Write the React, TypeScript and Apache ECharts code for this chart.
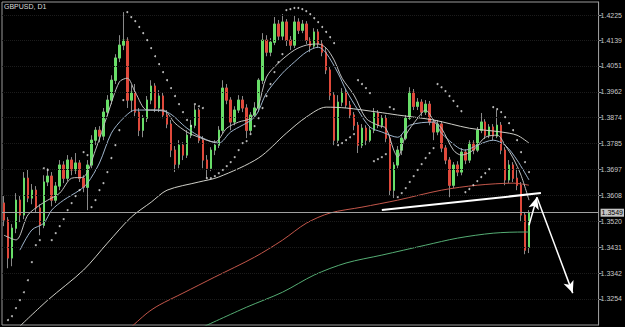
import React, { useEffect, useRef } from "react";
import * as echarts from "echarts";

const chartTitle = "GBPUSD, D1";
const lastPrice = 1.3549;
const slotCount = 150;
const priceTicks = [1.4225, 1.4139, 1.4051, 1.3962, 1.3874, 1.3785, 1.3697, 1.3608, 1.352, 1.3431, 1.3342, 1.3254];

// [open, close, low, high]
const candles: number[][] = [
  [1.3582, 1.3524, 1.3503, 1.3606], [1.3524, 1.3394, 1.3359, 1.3534], [1.3394, 1.3496, 1.3366, 1.351],
  [1.3496, 1.3592, 1.3479, 1.3616], [1.3592, 1.3541, 1.3517, 1.3606], [1.3541, 1.3667, 1.3527, 1.3688],
  [1.3667, 1.3599, 1.3585, 1.3695], [1.3599, 1.3626, 1.3578, 1.3647], [1.3626, 1.3565, 1.3551, 1.364],
  [1.3565, 1.3506, 1.3472, 1.3578], [1.3506, 1.3654, 1.3496, 1.3677], [1.3654, 1.3674, 1.364, 1.3701],
  [1.3674, 1.3592, 1.3571, 1.3688], [1.3592, 1.364, 1.3582, 1.3654], [1.364, 1.3712, 1.3626, 1.3729],
  [1.3712, 1.3667, 1.365, 1.3725], [1.3667, 1.3729, 1.3657, 1.3746], [1.3729, 1.3695, 1.3677, 1.3739],
  [1.3695, 1.3719, 1.3681, 1.3753], [1.3719, 1.3667, 1.3654, 1.3729], [1.3667, 1.3636, 1.3619, 1.3677],
  [1.3636, 1.3712, 1.3558, 1.3729], [1.3712, 1.3797, 1.3701, 1.3814], [1.3797, 1.3831, 1.378, 1.3842],
  [1.3831, 1.3811, 1.379, 1.3845], [1.3811, 1.3893, 1.3797, 1.3907], [1.3893, 1.3934, 1.3879, 1.3951],
  [1.3934, 1.4002, 1.392, 1.4019], [1.4002, 1.4078, 1.3989, 1.4091], [1.4078, 1.4122, 1.4064, 1.4156],
  [1.4122, 1.4139, 1.4105, 1.4235], [1.4139, 1.3934, 1.3907, 1.4149], [1.3934, 1.3961, 1.3893, 1.3985],
  [1.3961, 1.3893, 1.3879, 1.3989], [1.3893, 1.3831, 1.3811, 1.3907], [1.3831, 1.3872, 1.3807, 1.3883],
  [1.3872, 1.3934, 1.3859, 1.3948], [1.3934, 1.3982, 1.392, 1.4002], [1.3982, 1.3907, 1.3893, 1.3992],
  [1.3907, 1.3948, 1.3893, 1.3968], [1.3948, 1.3883, 1.3872, 1.3961], [1.3883, 1.3852, 1.3838, 1.39],
  [1.3852, 1.3763, 1.3739, 1.3866], [1.3763, 1.3715, 1.3688, 1.3777], [1.3715, 1.378, 1.3701, 1.3797],
  [1.378, 1.3746, 1.3729, 1.379], [1.3746, 1.3814, 1.3736, 1.3831], [1.3814, 1.3848, 1.3804, 1.3866],
  [1.3848, 1.39, 1.3838, 1.3917], [1.39, 1.3797, 1.3784, 1.3907], [1.3797, 1.3729, 1.3701, 1.3811],
  [1.3729, 1.3701, 1.3667, 1.3746], [1.3701, 1.3763, 1.3691, 1.3773], [1.3763, 1.378, 1.3746, 1.3797],
  [1.378, 1.3831, 1.377, 1.3845], [1.3831, 1.3975, 1.3821, 1.4002], [1.3975, 1.3934, 1.392, 1.3989],
  [1.3934, 1.3859, 1.3831, 1.3944], [1.3859, 1.39, 1.3848, 1.3913], [1.39, 1.3934, 1.389, 1.3951],
  [1.3934, 1.3907, 1.3893, 1.3948], [1.3907, 1.3831, 1.3804, 1.392], [1.3831, 1.3883, 1.3821, 1.3893],
  [1.3883, 1.3907, 1.3872, 1.3927], [1.3907, 1.4002, 1.3893, 1.4009], [1.4002, 1.4139, 1.3989, 1.4163],
  [1.4139, 1.4098, 1.4084, 1.4156], [1.4098, 1.4132, 1.4084, 1.4146], [1.4132, 1.4194, 1.4122, 1.4218],
  [1.4194, 1.4153, 1.4139, 1.4208], [1.4153, 1.4201, 1.4139, 1.4228], [1.4201, 1.4139, 1.4119, 1.4211],
  [1.4139, 1.4122, 1.4105, 1.4153], [1.4122, 1.4201, 1.4112, 1.4225], [1.4201, 1.4173, 1.416, 1.4214],
  [1.4173, 1.4194, 1.4163, 1.4208], [1.4194, 1.4139, 1.4126, 1.4204], [1.4139, 1.4119, 1.4098, 1.4149],
  [1.4119, 1.4167, 1.4112, 1.418], [1.4167, 1.4126, 1.4112, 1.4177], [1.4126, 1.4098, 1.4084, 1.4139],
  [1.4098, 1.4037, 1.4023, 1.4112], [1.4037, 1.3951, 1.3934, 1.4047], [1.3951, 1.3797, 1.378, 1.3961],
  [1.3797, 1.3927, 1.3787, 1.3951], [1.3927, 1.3961, 1.3913, 1.3975], [1.3961, 1.3917, 1.3907, 1.3972],
  [1.3917, 1.3883, 1.3872, 1.3931], [1.3883, 1.3848, 1.3831, 1.3893], [1.3848, 1.378, 1.3753, 1.3859],
  [1.378, 1.3838, 1.377, 1.3852], [1.3838, 1.3797, 1.378, 1.3848], [1.3797, 1.3831, 1.379, 1.3845],
  [1.3831, 1.389, 1.3821, 1.3907], [1.389, 1.3848, 1.3838, 1.39], [1.3848, 1.3872, 1.3838, 1.3883],
  [1.3872, 1.3804, 1.379, 1.3883], [1.3804, 1.3626, 1.3609, 1.3814], [1.3626, 1.3712, 1.3599, 1.3722],
  [1.3712, 1.3763, 1.3701, 1.3777], [1.3763, 1.3804, 1.3746, 1.3818], [1.3804, 1.3872, 1.3797, 1.3883],
  [1.3872, 1.3961, 1.3866, 1.3978], [1.3961, 1.3913, 1.39, 1.3972], [1.3913, 1.3927, 1.39, 1.3941],
  [1.3927, 1.3893, 1.3879, 1.3937], [1.3893, 1.392, 1.3883, 1.3934], [1.392, 1.3859, 1.3848, 1.3931],
  [1.3859, 1.3825, 1.3797, 1.3869], [1.3825, 1.3852, 1.3814, 1.3866], [1.3852, 1.377, 1.3756, 1.3862],
  [1.377, 1.3729, 1.3715, 1.378], [1.3729, 1.3643, 1.3602, 1.3739], [1.3643, 1.3712, 1.3633, 1.3722],
  [1.3712, 1.3688, 1.3674, 1.3725], [1.3688, 1.3756, 1.3677, 1.377], [1.3756, 1.3729, 1.3715, 1.3766],
  [1.3729, 1.3787, 1.3719, 1.3797], [1.3787, 1.3763, 1.3749, 1.3797], [1.3763, 1.3831, 1.3756, 1.3842],
  [1.3831, 1.3859, 1.3821, 1.389], [1.3859, 1.3814, 1.3801, 1.3869], [1.3814, 1.3842, 1.3804, 1.3852],
  [1.3842, 1.3811, 1.3797, 1.3852], [1.3811, 1.3848, 1.3804, 1.39], [1.3848, 1.3763, 1.3749, 1.3859],
  [1.3763, 1.3661, 1.3643, 1.3773], [1.3661, 1.3712, 1.365, 1.3729], [1.3712, 1.3667, 1.3654, 1.3722],
  [1.3667, 1.3643, 1.3626, 1.3701], [1.3643, 1.3541, 1.3517, 1.3654], [1.3541, 1.3421, 1.3407, 1.3551],
  [1.3431, 1.3549, 1.3411, 1.3558],
];

const sar: number[] = [
  1.3164, 1.3182, 1.3195, 1.3223, 1.325, 1.3277, 1.3318, 1.338, 1.3438, 1.3455,
  1.3701, 1.3695,
  1.3455, 1.3479, 1.3503, 1.3527, 1.3558, 1.3582, 1.3606, 1.3626,
  1.3756, 1.3746,
  1.3568, 1.3592, 1.3626, 1.365, 1.3688, 1.3736, 1.378, 1.3831, 1.3934,
  1.4235, 1.4218, 1.4204, 1.4184, 1.4163, 1.4139, 1.4112, 1.4084, 1.4057, 1.403, 1.4002, 1.3975, 1.3948, 1.392, 1.3893, 1.3866, 1.3845,
  1.392, 1.3913, 1.3907,
  1.3667, 1.3667, 1.3674, 1.3684, 1.3695, 1.3708, 1.3722, 1.3739, 1.3763, 1.3787, 1.3794, 1.3818, 1.3845, 1.3872, 1.3907, 1.3948, 1.3989, 1.403, 1.4064, 1.4091,
  1.4242, 1.4245, 1.4249, 1.4249, 1.4245, 1.4238, 1.4228, 1.4214, 1.4201, 1.4184, 1.4167, 1.4149, 1.4129,
  1.378, 1.3787, 1.3797, 1.3807, 1.3818,
  1.4002, 1.3989, 1.3975, 1.3958,
  1.3725, 1.3732, 1.3739, 1.3749,
  1.391, 1.3903,
  1.3602, 1.3616, 1.3633, 1.3654, 1.3674, 1.3695, 1.3715, 1.3736, 1.3753, 1.377,
  1.3989, 1.3978, 1.3965, 1.3948, 1.3931, 1.3913, 1.3896,
  1.3619, 1.363, 1.3643, 1.3657, 1.3671, 1.3684, 1.3698,
  1.391, 1.3903, 1.3893, 1.3876, 1.3855, 1.3831, 1.3797, 1.3756, 1.3722, 1.3688,
];

// moving averages read at points: [bar index, price]
const maFast: number[][] = [
  [0, 1.3472], [3, 1.3456], [6, 1.3541], [9, 1.3575], [11, 1.3592], [14, 1.3616], [17, 1.3667], [20, 1.3671],
  [23, 1.3763], [26, 1.3883], [29, 1.3996], [31, 1.4009], [33, 1.3961], [36, 1.39], [40, 1.39], [43, 1.3855],
  [46, 1.3825], [49, 1.3807], [53, 1.379], [56, 1.3838], [59, 1.3859], [62, 1.3872], [64, 1.3917], [66, 1.4013],
  [69, 1.4061], [73, 1.4105], [76, 1.4122], [79, 1.4126], [81, 1.4112], [83, 1.4071], [85, 1.4009], [88, 1.3951],
  [91, 1.3872], [94, 1.3848], [96, 1.3838], [98, 1.3763], [99, 1.3739], [101, 1.3814], [104, 1.3872], [106, 1.39],
  [108, 1.3866], [110, 1.3838], [113, 1.3763], [115, 1.3746], [118, 1.3763], [121, 1.3807], [124, 1.3814],
  [126, 1.378], [128, 1.3736], [130, 1.3677], [132, 1.3592],
];
const maMid: number[][] = [
  [4, 1.3421], [7, 1.349], [10, 1.3513], [12, 1.3558], [15, 1.3592], [19, 1.3626], [21, 1.365], [24, 1.3719],
  [27, 1.3821], [30, 1.3872], [33, 1.39], [36, 1.39], [41, 1.3893], [46, 1.3838], [50, 1.3804], [54, 1.3787],
  [57, 1.3825], [63, 1.3876], [66, 1.3958], [70, 1.4026], [73, 1.4064], [76, 1.4098], [79, 1.4115], [81, 1.4095],
  [84, 1.4026], [86, 1.3968], [89, 1.39], [92, 1.3842], [95, 1.3825], [99, 1.3807], [102, 1.3848], [108, 1.3859],
  [110, 1.3821], [114, 1.3773], [116, 1.3763], [119, 1.378], [123, 1.3797], [126, 1.378], [129, 1.3729], [132, 1.3661],
];
const maSlow: number[][] = [
  [4, 1.3161], [11, 1.325], [20, 1.3353], [26, 1.3445], [32, 1.3534], [37, 1.3585], [41, 1.3626], [49, 1.3654],
  [54, 1.3671], [64, 1.3736], [71, 1.3821], [76, 1.3876], [81, 1.391], [86, 1.3907], [94, 1.3893], [99, 1.3883],
  [108, 1.3866], [117, 1.3838], [125, 1.3825], [129, 1.3814], [132, 1.3787],
];
const maRed: number[][] = [
  [32, 1.3158], [36, 1.3206], [39, 1.3233], [45, 1.3274], [53, 1.3329], [63, 1.3397], [70, 1.3455], [76, 1.3513],
  [82, 1.3548], [90, 1.3568], [99, 1.3592], [110, 1.3626], [119, 1.3643], [128, 1.365], [132, 1.3643],
];
const maGreen: number[][] = [
  [50, 1.3158], [61, 1.3226], [70, 1.3277], [78, 1.3336], [86, 1.3377], [95, 1.3404], [106, 1.3438], [114, 1.3462],
  [123, 1.3479], [131, 1.3483], [132, 1.3483],
];

const trendLine = [[95, 1.3558], [135, 1.3616]];
const arrowUp = [[132, 1.3506], [134, 1.3602]];
const arrowDown = [[134, 1.3602], [143, 1.3274]];

export default function App() {
  const ref = useRef<HTMLDivElement>(null);
  useEffect(() => {
    document.body.style.margin = "0";
    document.body.style.background = "#000";
    const chart = echarts.init(ref.current as HTMLDivElement, null, { renderer: "svg" });
    const categories = Array.from({ length: slotCount }, (_, i) => String(i));
    const bodies = candles.map(([o, c]) => [o, c, Math.min(o, c), Math.max(o, c)]);
    const white = { color: "#ffffff", width: 1.5, type: "solid" };
    const maLine = (data: number[][], color: string) => ({
      type: "line",
      data,
      showSymbol: false,
      smooth: 0.3,
      silent: true,
      lineStyle: { color, width: 1 },
      z: 4,
    });
    chart.setOption({
      animation: false,
      backgroundColor: "#000000",
      title: {
        text: chartTitle,
        left: 4,
        top: 3,
        padding: 0,
        textStyle: { color: "#dcdcdc", fontSize: 7, fontWeight: "normal", fontFamily: "Liberation Sans" },
      },
      grid: { left: 2, right: 21, top: 2, bottom: 2, show: true, borderColor: "#9a9a9a", borderWidth: 1 },
      xAxis: {
        type: "category",
        data: categories,
        boundaryGap: true,
        axisLine: { show: false },
        axisTick: { show: false },
        axisLabel: { show: false },
        splitLine: { show: false },
      },
      yAxis: {
        type: "value",
        position: "right",
        min: 1.3165,
        max: 1.42695,
        axisLine: { show: true, lineStyle: { color: "#9a9a9a" } },
        axisTick: { show: true, customValues: priceTicks, length: 3, lineStyle: { color: "#9a9a9a" } },
        axisLabel: {
          customValues: priceTicks,
          formatter: (v: number) => v.toFixed(4),
          color: "#c8c8c8",
          fontSize: 7,
          margin: 2,
          fontFamily: "Liberation Sans",
        },
        splitLine: { show: false },
      },
      series: [
        {
          type: "candlestick",
          data: candles,
          barWidth: 2,
          silent: true,
          itemStyle: { color: "#8a8a8a", color0: "#8a8a8a", borderColor: "#8a8a8a", borderColor0: "#8a8a8a", borderWidth: 1 },
          markLine: {
            silent: true,
            precision: 4,
            symbol: ["none", "none"],
            label: { show: false },
            lineStyle: { color: "#1c1c1c", type: "dotted", width: 1 },
            data: priceTicks.map((v) => ({ yAxis: v })),
          },
          z: 2,
        },
        {
          type: "candlestick",
          data: bodies,
          barWidth: 2,
          silent: true,
          itemStyle: { color: "#68de68", color0: "#e0493b", borderColor: "#68de68", borderColor0: "#e0493b", borderWidth: 1 },
          markLine: {
            silent: true,
            precision: 4,
            symbol: ["none", "none"],
            symbolSize: [8, 12],
            label: { show: false },
            data: [
              {
                yAxis: lastPrice,
                lineStyle: { color: "#a0a0a0", width: 1, type: "solid" },
                label: {
                  show: true,
                  position: "end",
                  distance: 2,
                  formatter: lastPrice.toFixed(4),
                  backgroundColor: "#c4c4c4",
                  color: "#000000",
                  fontSize: 7,
                  padding: [1, 1, 0, 1],
                  fontFamily: "Liberation Sans",
                },
              },
              [
                { coord: trendLine[0], symbol: "none", lineStyle: { color: "#ffffff", width: 2, type: "solid" } },
                { coord: trendLine[1], symbol: "none" },
              ],
              [
                { coord: arrowUp[0], symbol: "none", lineStyle: white, itemStyle: { color: "#ffffff" } },
                { coord: arrowUp[1], symbol: "arrow", itemStyle: { color: "#ffffff" } },
              ],
              [
                { coord: arrowDown[0], symbol: "none", lineStyle: white, itemStyle: { color: "#ffffff" } },
                { coord: arrowDown[1], symbol: "arrow", itemStyle: { color: "#ffffff" } },
              ],
            ],
          },
          z: 3,
        },
        maLine(maGreen, "#55ad74"),
        maLine(maRed, "#c4574b"),
        maLine(maSlow, "#cfcfc8"),
        maLine(maMid, "#9fb5cc"),
        maLine(maFast, "#c0c0c0"),
        {
          type: "scatter",
          data: sar.map((v, i) => [i, v]),
          symbol: "circle",
          symbolSize: 2,
          silent: true,
          itemStyle: { color: "#e6e6e6" },
          z: 5,
        },
      ],
    });
    return () => chart.dispose();
  }, []);
  return (
    <div
      ref={ref}
      style={{ position: "fixed", left: 0, top: 0, width: 625, height: 327, background: "#000" }}
    />
  );
}
